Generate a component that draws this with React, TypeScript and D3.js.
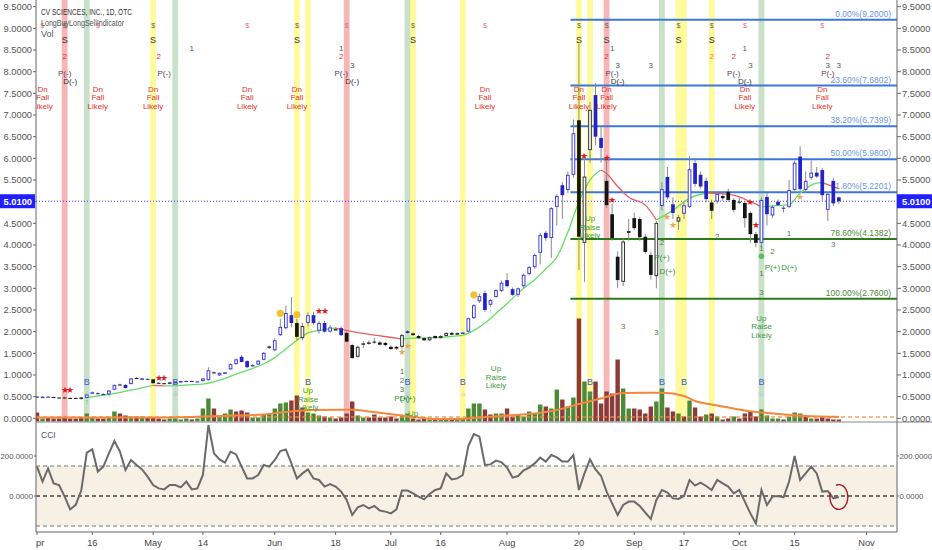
import * as d3 from "d3";

// ---- daily bars, Apr 2 – Oct 25 (trading days only) ----
const opens = [
  0.50, 0.49, 0.50, 0.49, 0.48, 0.48, 0.47, 0.47, 0.48, 0.47,
  0.57, 0.58, 0.56, 0.55, 0.66, 0.78, 0.77, 0.79, 0.93, 0.91,
  0.91, 0.90, 0.82, 0.81, 0.80, 0.83, 0.83, 0.86, 0.86, 0.85,
  0.86, 0.88, 1.06, 0.99, 1.05, 1.13, 1.25, 1.42, 1.32, 1.22,
  1.24, 1.35, 1.65, 1.57, 1.92, 2.08, 2.38, 2.20, 1.85, 2.20,
  2.38, 2.02, 2.20, 2.00, 2.05, 2.08, 1.97, 1.69, 1.42, 1.70,
  1.74, 1.77, 1.75, 1.74, 1.65, 1.65, 1.65, 2.01, 1.96, 1.90,
  1.85, 1.80, 1.90, 1.85, 1.90, 1.97, 1.93, 1.97, 2.00, 2.31,
  2.70, 2.89, 2.62, 2.80, 2.94, 3.19, 2.98, 2.85, 3.05, 3.33,
  3.49, 3.82, 4.28, 4.16, 4.88, 5.38, 5.27, 5.62, 6.88, 4.05,
  6.19, 7.46, 6.47, 5.48, 4.71, 3.73, 3.15, 4.32, 4.62, 4.60,
  4.19, 3.77, 3.28, 4.90, 5.57, 4.94, 4.54, 4.72, 4.88, 5.89,
  5.62, 5.48, 4.98, 5.00, 5.13, 5.23, 5.04, 5.00, 4.97, 4.74,
  4.25, 4.05, 5.11, 4.68, 5.00, 4.86, 4.88, 5.27, 6.04, 5.27,
  5.55, 5.67, 5.73, 4.81, 5.48, 5.10,
];
const highs = [
  0.51, 0.51, 0.51, 0.50, 0.49, 0.49, 0.48, 0.48, 0.49, 0.56,
  0.62, 0.60, 0.58, 0.65, 0.78, 0.80, 0.79, 0.93, 0.95, 0.93,
  0.92, 0.91, 0.83, 0.82, 0.84, 0.85, 0.87, 0.87, 0.87, 0.86,
  0.93, 1.18, 1.08, 1.06, 1.07, 1.27, 1.38, 1.46, 1.34, 1.25,
  1.34, 1.53, 1.68, 1.85, 2.30, 2.60, 2.80, 2.30, 2.20, 2.45,
  2.45, 2.25, 2.25, 2.15, 2.10, 2.12, 2.00, 1.72, 1.68, 1.78,
  1.80, 1.85, 1.78, 1.76, 1.68, 1.67, 1.95, 2.03, 1.98, 1.92,
  1.87, 1.89, 1.91, 1.92, 1.99, 1.99, 1.98, 2.00, 2.33, 2.63,
  2.88, 2.95, 2.76, 2.98, 3.18, 3.35, 3.02, 3.02, 3.34, 3.52,
  3.80, 4.28, 4.32, 4.88, 5.18, 5.45, 5.70, 6.90, 8.65, 6.10,
  7.30, 7.74, 6.75, 6.00, 4.95, 3.85, 4.15, 4.60, 4.75, 4.65,
  4.25, 3.85, 4.55, 5.45, 5.80, 5.10, 4.70, 5.00, 6.05, 6.00,
  5.70, 5.55, 5.05, 5.22, 5.18, 5.30, 5.08, 5.10, 5.00, 4.78,
  4.30, 5.10, 5.20, 4.92, 5.05, 4.90, 5.50, 5.95, 6.28, 5.70,
  5.95, 5.80, 5.78, 5.22, 5.55, 5.12,
];
const lows = [
  0.48, 0.48, 0.48, 0.47, 0.47, 0.46, 0.46, 0.45, 0.43, 0.46,
  0.56, 0.55, 0.54, 0.54, 0.65, 0.76, 0.69, 0.78, 0.92, 0.90,
  0.89, 0.80, 0.80, 0.79, 0.79, 0.82, 0.82, 0.85, 0.84, 0.84,
  0.85, 0.87, 1.03, 0.98, 1.04, 1.12, 1.24, 1.29, 1.16, 1.20,
  1.23, 1.34, 1.60, 1.55, 1.90, 2.05, 2.10, 1.80, 1.80, 2.15,
  2.15, 1.95, 1.98, 1.98, 2.03, 1.90, 1.75, 1.38, 1.40, 1.62,
  1.70, 1.72, 1.68, 1.66, 1.58, 1.58, 1.60, 1.96, 1.90, 1.84,
  1.79, 1.78, 1.84, 1.84, 1.89, 1.92, 1.92, 1.96, 1.98, 2.29,
  2.66, 2.46, 2.58, 2.78, 2.92, 3.02, 2.82, 2.80, 3.00, 3.30,
  3.45, 3.55, 4.10, 3.70, 4.45, 4.60, 5.20, 5.55, 3.42, 3.15,
  5.90, 6.30, 5.90, 4.85, 4.10, 3.00, 3.05, 4.10, 4.35, 4.10,
  3.80, 3.20, 3.00, 4.80, 5.05, 4.60, 4.35, 4.60, 4.85, 5.35,
  5.30, 4.98, 4.60, 4.95, 5.02, 5.00, 4.75, 4.95, 4.40, 4.05,
  3.95, 3.95, 4.45, 4.62, 4.90, 4.75, 4.85, 5.25, 5.25, 5.20,
  5.50, 5.55, 5.00, 4.55, 4.90, 4.95,
];
const closes = [
  0.49, 0.50, 0.49, 0.48, 0.475, 0.47, 0.465, 0.46, 0.45, 0.55,
  0.60, 0.56, 0.55, 0.64, 0.77, 0.77, 0.70, 0.92, 0.93, 0.92,
  0.90, 0.81, 0.81, 0.80, 0.83, 0.84, 0.86, 0.86, 0.85, 0.85,
  0.92, 1.11, 1.05, 1.05, 1.06, 1.25, 1.36, 1.30, 1.18, 1.23,
  1.33, 1.51, 1.66, 1.80, 2.11, 2.43, 2.20, 1.88, 2.13, 2.38,
  2.20, 2.20, 2.00, 2.10, 2.06, 1.92, 1.77, 1.39, 1.65, 1.73,
  1.75, 1.76, 1.70, 1.69, 1.60, 1.61, 1.92, 1.97, 1.92, 1.85,
  1.80, 1.87, 1.85, 1.90, 1.97, 1.93, 1.97, 1.98, 2.31, 2.61,
  2.82, 2.50, 2.73, 2.96, 3.13, 3.05, 2.85, 3.00, 3.31, 3.49,
  3.77, 4.23, 4.16, 4.85, 5.13, 5.15, 5.62, 6.58, 4.19, 5.58,
  7.12, 6.50, 6.24, 4.92, 4.16, 3.19, 4.08, 4.28, 4.39, 4.18,
  3.84, 3.31, 4.51, 5.29, 5.10, 4.74, 4.64, 4.92, 5.75, 5.41,
  5.35, 5.06, 4.79, 5.18, 5.08, 5.04, 4.81, 4.98, 4.62, 4.25,
  4.05, 5.04, 4.71, 4.88, 4.92, 4.85, 5.27, 5.90, 5.29, 5.48,
  5.67, 5.58, 5.15, 5.18, 4.96, 5.01,
];
// b = blue bar, k = black bar (indicator colouring)
const barTone =
  "kbbkkkkkkb" + "bbbbbkbbkb" + "bkkkkbbbbb" + "bbkbbbbbbb" + "bbkbbbbkkb" +
  "bbbbkbkkkk" + "kkkkkkkbkk" + "kkkkkkkbbb" + "bbbbbbbbbb" + "bbbbbbbbkk" +
  "kbbkkkkkkk" + "kkkbbbkbbb" + "bbkbkkkkkk" + "kbbbbbbbbb" + "bbbbbb";

// volume (x10k shares) and its colour, g = up, r = down
const volume = [
  9, 3, 4, 3, 3, 4, 3, 3, 4, 8,
  4, 3, 3, 4, 10, 8, 6, 5, 5, 5,
  4, 4, 3, 2, 3, 3, 2, 3, 2, 3,
  13, 23, 13, 6, 8, 12, 10, 11, 9, 4,
  4, 7, 8, 13, 18, 19, 21, 26, 14, 9,
  8, 6, 5, 4, 3, 4, 8, 20, 6, 4,
  4, 7, 4, 4, 5, 3, 6, 8, 3, 2,
  3, 2, 2, 3, 2, 2, 3, 3, 13, 18,
  18, 12, 7, 8, 8, 13, 5, 7, 5, 10,
  8, 17, 15, 13, 32, 22, 15, 24, 103, 40,
  30, 40, 18, 30, 28, 62, 33, 13, 13, 12,
  8, 15, 20, 33, 14, 10, 8, 5, 21, 14,
  5, 7, 8, 5, 2, 3, 5, 3, 8, 10,
  5, 12, 6, 3, 3, 2, 5, 9, 8, 5,
  3, 3, 5, 3, 2, 2,
];
const volDir =
  "rgrrrrrrrg" + "grrggrrgrg" + "rrrrggggrg" + "ggrgggrrrg" + "ggggggrrrg" +
  "ggrgrrrrgg" + "rrrrrrggrr" + "rgrggrgggg" + "grrggrrggg" + "ggrggrggrg" +
  "grrrrrggrr" + "rrggrrgrgr" + "rgrgrrgrrr" + "rggggrgggr" + "grrrrr";

// volume moving average (read at sample bars)
const vmaIdx = [0, 10, 20, 30, 36, 41, 44, 47, 50, 54, 57, 60, 63, 66, 69, 72, 76, 80, 85, 90, 94, 98, 102, 106, 110, 113, 117, 119, 122, 125, 128, 131, 134, 137, 140, 143, 145];
const vmaVal = [4, 4, 4, 5, 6, 7, 9, 10.5, 11.5, 11.7, 11.7, 10, 8, 6, 4, 2.5, 2.5, 4, 6, 8, 11.5, 17.5, 23, 28.5, 28.7, 28.7, 25.5, 20.5, 17, 14, 11, 9, 7.5, 6.3, 5.2, 4.7, 4.6];

// trend line of the indicator (read at sample bars)
const maIdx = [9, 13, 17, 21, 23, 25, 27, 30, 33, 36, 39, 41, 43, 44, 47, 49, 51, 53, 54, 57, 61, 65, 66, 68, 72, 74, 77, 79, 81, 83, 85, 88, 90, 92, 94, 96, 98, 100, 102, 103, 105, 107, 110, 112, 115, 118, 121, 123, 126, 129, 131, 133, 136, 138, 141, 142, 144, 145];
const maVal = [0.48, 0.55, 0.65, 0.76, 0.75, 0.75, 0.77, 0.79, 0.88, 1.02, 1.15, 1.26, 1.40, 1.50, 1.80, 1.97, 2.03, 2.07, 2.08, 2.00, 1.92, 1.85, 1.83, 1.85, 1.86, 1.88, 1.92, 2.03, 2.20, 2.42, 2.65, 3.00, 3.20, 3.45, 3.72, 4.30, 5.00, 5.50, 5.73, 5.65, 5.35, 5.10, 4.92, 4.58, 4.80, 5.08, 5.20, 5.19, 5.15, 5.00, 4.88, 4.90, 4.93, 5.20, 5.43, 5.44, 5.35, 5.30];

const cci = [
  147, 72, 138, 63, 55, -3, -67, -44, 27, 217,
  233, 122, 147, 213, 275, 222, 130, 180, 155, 133,
  97, 55, 38, 33, 55, 55, 43, 72, 33, 38,
  105, 355, 213, 183, 167, 222, 208, 147, 88, 88,
  105, 155, 147, 180, 225, 233, 163, 88, 113, 133,
  88, 80, 47, 60, 47, 22, -20, -95, -57, -45,
  -62, -50, -73, -78, -87, -67, 27, 27, 13, -3,
  -17, 10, 30, 38, 113, 83, 88, 105, 250, 310,
  297, 155, 158, 177, 168, 142, 92, 100, 128, 142,
  163, 192, 172, 205, 193, 172, 172, 205, 30, 113,
  183, 133, 100, 22, -37, -95, -45, -28, -28, -50,
  -83, -115, -20, 30, 17, -12, -15, 0, 80, 52,
  67, 50, 30, 80, 63, 47, 13, 30, -28, -87,
  -137, 30, -45, -3, 0, -7, 72, 200, 80, 113,
  147, 113, 22, 25, -12, -5,
];

// Fibonacci retracement
const fibPct = ["0.00%", "23.60%", "38.20%", "50.00%", "61.80%", "78.60%", "100.00%"];
const fibVal = [9.2, 7.6802, 6.7399, 5.98, 5.2201, 4.1382, 2.76];
const fibStart = 97;

// highlighted bars
const redBands = [5, 56, 103];
const greenBands = [9, 25, 67, 113, 131];
const yellowBands = [21, 47, 49, 68, 77, 98, 100, 116, 117, 122];

// signals in the top rows
const sellIdx = [5, 21, 47, 68, 98, 103, 116, 122];
const pinkIdx = [1, 11, 38, 56, 81, 128, 142];
const dnFallIdx = [1, 11, 21, 38, 47, 81, 98, 103, 128, 142];
const oneTopIdx = [28, 55, 104, 128];
const twoTopIdx = [5, 22, 55, 103, 122, 126, 143];
const threeTopIdx = [57, 105, 111, 129, 143, 145];
const pMinusIdx = [5, 23, 55, 104, 126, 143];
const dMinusIdx = [6, 57, 105, 128];

// signals in the bottom rows
const buyIdx = [9, 25, 49, 67, 77, 100, 113, 117, 131];
const buyStarIdx = [9, 25, 67, 77, 100, 131];
const upIdx = [49, 68, 83, 100, 131];
const upLevel = [0.65, 0.12, 1.16, 4.62, 2.32];
const lowIdx = [66, 66, 66, 66, 67, 30, 113, 113, 114, 123, 131, 133, 133, 136, 131, 131, 136, 144, 106, 112];
const lowLevel = [1.09, 0.88, 0.67, 0.47, 0.47, 0.17, 4.07, 3.72, 3.40, 4.21, 3.93, 3.85, 3.50, 3.50, 3.35, 2.92, 4.27, 4.02, 2.13, 2.0];
const lowText = ["1", "2", "3", "P(+)", "D(+)", "1", "2", "P(+)", "D(+)", "2", "1", "2", "P(+)", "D(+)", "1", "3", "1", "3", "3", "3"];
const redStarIdx = [5, 6, 22, 23, 51, 52, 99, 103, 104, 129, 130];
const redStarLevel = [0.675, 0.675, 0.95, 0.95, 2.48, 2.48, 6.07, 6.03, 5.05, 5.0, 4.48];
const orangeStarIdx = [66, 67, 114, 115, 138];
const orangeStarLevel = [1.54, 1.69, 4.65, 4.48, 5.13];
const dotIdx = [44, 47, 79];
const dotLevel = [2.42, 2.39, 2.85];
const arrowIdx = [9, 13, 49, 82, 100];
const arrowLevel = [0.40, 0.52, 2.12, 2.48, 6.05];
const greenDotIdx = [131];
const greenDotLevel = [3.74];

const priceTicks = d3.range(0, 9.51, 0.5);
const cciTicks = [200, 0];
const timeIdx = [0, 10, 21, 30, 43, 54, 64, 73, 85, 98, 108, 117, 127, 137, 150];
const timeText = ["Apr", "16", "May", "14", "Jun", "18", "Jul", "16", "Aug", "20", "Sep", "17", "Oct", "15", "Nov"];

const W = 932;
const H = 550;
const L = 36;
const R = 897;
const PANE_BOT = 422;
const CCI_BOT = 532;
const FONT = "'Liberation Sans', Arial, sans-serif";

const x = d3.scaleLinear().domain([0, 150]).range([37, 866.5]);
const y = d3.scaleLinear().domain([0, 9.5]).range([418.3, 6.7]);
const vy = d3.scaleLinear().domain([0, 100]).range([421.5, 321.5]);
const cy = d3.scaleLinear().domain([-150, 200]).range([526, 456]);
const rowY = d3.scaleLinear().domain([0, 1]).range([40, 48.2]);
const bottomRowY = d3.scaleLinear().domain([0, 1]).range([382, 393]);

const BLUE = "#2323c8";
const BLUE_LINE = "#4040dc";
const BLACK = "#151515";

function trendRuns(idx: number[], val: number[]) {
  const out: { up: boolean; pts: number[] }[] = [];
  let up = val[1] >= val[0];
  let cur = [0];
  for (let k = 1; k < val.length; k++) {
    const u = val[k] >= val[k - 1];
    if (u === up) cur.push(k);
    else {
      out.push({ up, pts: cur });
      cur = [k - 1, k];
      up = u;
    }
  }
  out.push({ up, pts: cur });
  return out;
}

export default function App() {
  const n = closes.length;
  const last = n - 1;
  const lastPrice = closes[last];

  const maLine = d3
    .line<number>()
    .x((k) => x(maIdx[k]))
    .y((k) => y(maVal[k]))
    .curve(d3.curveMonotoneX);
  const runs = trendRuns(maIdx, maVal);

  const vmaLine = d3
    .line<number>()
    .x((_, k) => x(vmaIdx[k]))
    .y((d) => vy(d))
    .curve(d3.curveMonotoneX);

  const cciLine = d3
    .line<number>()
    .x((_, i) => x(i))
    .y((d) => cy(d));

  // hand-drawn circle around the last CCI reading
  const cx0 = x(last);
  const cy0 = cy(cci[last]);
  const circ = d3
    .line<number>()
    .x((t) => cx0 + 9 * Math.cos(t))
    .y((t) => cy0 + 12.5 * Math.sin(t))
    .curve(d3.curveBasis)(d3.range(-1.9, 3.7, 0.2));

  const bw = 3.7;

  const band = (i: number, fill: string, key: string) => (
    <rect key={key} x={x(i) - 2.9} y={0} width={5.8} height={PANE_BOT} fill={fill} />
  );

  const small = { fontFamily: FONT, fontSize: 8, textAnchor: "middle" as const };

  return (
    <svg width={W} height={H} style={{ position: "absolute", left: 0, top: 0, background: "#fff" }}>
      <defs>
        <clipPath id="mainClip">
          <rect x={L} y={0} width={R - L} height={PANE_BOT} />
        </clipPath>
        <clipPath id="cciClip">
          <rect x={L} y={PANE_BOT} width={R - L} height={CCI_BOT - PANE_BOT} />
        </clipPath>
        <clipPath id="timeClip">
          <rect x={L} y={CCI_BOT} width={R - L} height={H - CCI_BOT} />
        </clipPath>
      </defs>
      <rect width={W} height={H} fill="#fff" />

      <g clipPath="url(#mainClip)">
        {redBands.map((i) => band(i, "rgba(240,110,110,0.5)", `r${i}`))}
        {greenBands.map((i) => band(i, "rgba(110,175,110,0.38)", `g${i}`))}
        {yellowBands.map((i) => band(i, "rgba(255,248,90,0.6)", `y${i}`))}

        {/* volume */}
        {volume.map((v, i) => (
          <rect
            key={`v${i}`}
            x={x(i) - 2.2}
            y={vy(v)}
            width={4.4}
            height={vy(0) - vy(v)}
            fill={volDir[i] === "g" ? "#4e8a36" : "#8c3b3b"}
          />
        ))}
        <line
          x1={L}
          x2={R}
          y1={vy(vmaVal[vmaVal.length - 1])}
          y2={vy(vmaVal[vmaVal.length - 1])}
          stroke="#f08a40"
          strokeWidth={1.5}
          strokeDasharray="4 3"
          opacity={0.8}
        />
        <path d={vmaLine(vmaVal) ?? ""} fill="none" stroke="#f3883c" strokeWidth={2} />

        {/* fibonacci */}
        {fibVal.map((v, k) => {
          const c = k < 5 ? "#3d78d8" : "#2f7a1e";
          return (
            <line key={`f${k}`} x1={x(fibStart) - 3} x2={R} y1={y(v)} y2={y(v)} stroke={c} strokeWidth={2} />
          );
        })}
        {fibVal.map((v, k) => (
          <text
            key={`fl${k}`}
            x={891}
            y={y(v) - 3}
            fontFamily={FONT}
            fontSize={8.5}
            textAnchor="end"
            fill={k < 5 ? "#6b98e0" : "#4f8a3a"}
          >
            {`${fibPct[k]}(${v.toFixed(4)})`}
          </text>
        ))}

        {/* last price line */}
        <line x1={L} x2={R} y1={y(lastPrice)} y2={y(lastPrice)} stroke="#3a3aff" strokeWidth={1} strokeDasharray="1 2" />

        {/* trend line */}
        {runs.map((r, k) => (
          <path
            key={`ma${k}`}
            d={maLine(r.pts) ?? ""}
            fill="none"
            stroke={r.up ? "#66dd66" : "#e06262"}
            strokeWidth={1.3}
          />
        ))}

        {/* candles */}
        {closes.map((c, i) => {
          const o = opens[i];
          const blue = barTone[i] === "b";
          const col = blue ? BLUE : BLACK;
          const up = c > o;
          const top = y(Math.max(o, c));
          const h = Math.max(1, y(Math.min(o, c)) - top);
          return (
            <g key={`c${i}`}>
              <line x1={x(i)} x2={x(i)} y1={y(highs[i])} y2={y(lows[i])} stroke="#8a8a8a" strokeWidth={1} />
              {up ? (
                <rect
                  x={x(i) - bw / 2 + 0.5}
                  y={top + 0.5}
                  width={bw - 1}
                  height={Math.max(0.5, h - 1)}
                  fill="#fff"
                  stroke={blue ? BLUE_LINE : "#333"}
                  strokeWidth={1}
                />
              ) : (
                <rect x={x(i) - bw / 2} y={top} width={bw} height={h} fill={col} />
              )}
            </g>
          );
        })}

        {/* top rows */}
        {sellIdx.map((i) => (
          <g key={`s${i}`}>
            <text x={x(i)} y={rowY(-1.8) + 3} {...small} fontSize={7} fill="#666">$</text>
            <text x={x(i)} y={rowY(0) + 3} {...small} fontSize={9} fill="#333">S</text>
          </g>
        ))}
        {pinkIdx.map((i) => (
          <text key={`p${i}`} x={x(i)} y={rowY(-1.8) + 3} {...small} fontSize={7} fill="#e86a8c">$</text>
        ))}
        {oneTopIdx.map((i) => (
          <text key={`o${i}`} x={x(i)} y={rowY(1) + 3} {...small} fill="#555">1</text>
        ))}
        {twoTopIdx.map((i) => (
          <text key={`t${i}`} x={x(i)} y={rowY(2) + 3} {...small} fill={i === 122 ? "#e8841a" : "#e0303a"}>2</text>
        ))}
        {threeTopIdx.map((i) => (
          <text key={`th${i}`} x={x(i)} y={rowY(3) + 3} {...small} fill="#555">3</text>
        ))}
        {pMinusIdx.map((i) => (
          <text key={`pm${i}`} x={x(i)} y={rowY(4) + 3} {...small} fill="#6a3a5a">P(-)</text>
        ))}
        {dMinusIdx.map((i) => (
          <text key={`dm${i}`} x={x(i)} y={rowY(5) + 3} {...small} fill="#333">D(-)</text>
        ))}
        {dnFallIdx.map((i) => (
          <g key={`dn${i}`} fill="#e8302a">
            <text x={x(i)} y={rowY(6) + 3} {...small}>Dn</text>
            <text x={x(i)} y={rowY(7) + 3} {...small}>Fall</text>
            <text x={x(i)} y={rowY(8) + 3} {...small}>Likely</text>
          </g>
        ))}

        {/* bottom rows and bar signals */}
        {buyIdx.map((i) => (
          <text key={`b${i}`} x={x(i)} y={bottomRowY(0) + 3} {...small} fontSize={9} fill="#3b5bd6">B</text>
        ))}
        {buyStarIdx.map((i) => (
          <text key={`bs${i}`} x={x(i)} y={bottomRowY(1) + 3} {...small} fontSize={7} fill="#8f9ccf">☆</text>
        ))}
        {upIdx.map((i, k) => (
          <g key={`u${i}`} fill="#3f9a3f">
            <text x={x(i)} y={y(upLevel[k]) + 3} {...small}>Up</text>
            <text x={x(i)} y={y(upLevel[k]) + 11.5} {...small}>Raise</text>
            <text x={x(i)} y={y(upLevel[k]) + 20} {...small}>Likely</text>
          </g>
        ))}
        {lowIdx.map((i, k) => (
          <text
            key={`lo${k}`}
            x={x(i)}
            y={y(lowLevel[k]) + 3}
            {...small}
            fill={lowText[k].length > 1 ? "#37963a" : "#56794a"}
          >
            {lowText[k]}
          </text>
        ))}
        {redStarIdx.map((i, k) => (
          <text key={`rs${k}`} x={x(i)} y={y(redStarLevel[k]) + 3.5} {...small} fontSize={9} fill="#e01818">★</text>
        ))}
        {orangeStarIdx.map((i, k) => (
          <text key={`os${k}`} x={x(i)} y={y(orangeStarLevel[k]) + 3.5} {...small} fontSize={9} fill="#f2a45a">★</text>
        ))}
        {dotIdx.map((i, k) => (
          <circle key={`d${k}`} cx={x(i)} cy={y(dotLevel[k])} r={3.6} fill="#f2c230" />
        ))}
        {greenDotIdx.map((i, k) => (
          <circle key={`gd${k}`} cx={x(i)} cy={y(greenDotLevel[k])} r={2.8} fill="#5bbf5b" />
        ))}
        {arrowIdx.map((i, k) => (
          <text key={`a${k}`} x={x(i)} y={y(arrowLevel[k]) + 3} {...small} fontSize={7} fill="#3fbf3f">↑</text>
        ))}
      </g>

      {/* CCI pane */}
      <rect x={L} y={cy(150)} width={R - L} height={cy(-150) - cy(150)} fill="#f7f1e5" />
      <line x1={L} x2={R} y1={cy(150)} y2={cy(150)} stroke="#777" strokeDasharray="4 3" />
      <line x1={L} x2={R} y1={cy(-150)} y2={cy(-150)} stroke="#777" strokeDasharray="4 3" />
      <line x1={L} x2={R} y1={cy(0)} y2={cy(0)} stroke="#444" strokeWidth={1.6} strokeDasharray="4 3" />
      <g clipPath="url(#cciClip)">
        <path d={cciLine(cci) ?? ""} fill="none" stroke="#6a6a6a" strokeWidth={2} />
      </g>
      <path d={circ ?? ""} fill="none" stroke="#b0142a" strokeWidth={1.4} />
      <text x={41} y={438} fontFamily={FONT} fontSize={8.5} fill="#555">CCI</text>

      {/* frame */}
      <line x1={L} x2={L} y1={0} y2={CCI_BOT} stroke="#666" />
      <line x1={R} x2={R} y1={0} y2={CCI_BOT} stroke="#666" />
      <line x1={L} x2={W} y1={PANE_BOT} y2={PANE_BOT} stroke="#888" />
      <line x1={L} x2={R} y1={CCI_BOT} y2={CCI_BOT} stroke="#666" />

      {/* price axes */}
      {priceTicks.map((v) => (
        <g key={`pt${v}`} fontFamily={FONT} fontSize={9.3} fill="#555">
          <line x1={R} x2={R + 4} y1={y(v)} y2={y(v)} stroke="#666" />
          <line x1={L - 3} x2={L} y1={y(v)} y2={y(v)} stroke="#666" />
          <text x={R + 5} y={y(v) + 3.3}>{v.toFixed(4)}</text>
          <text x={L - 4} y={y(v) + 3.3} textAnchor="end">{v.toFixed(4)}</text>
        </g>
      ))}
      {cciTicks.map((v) => (
        <g key={`ct${v}`} fontFamily={FONT} fontSize={7.8} fill="#555">
          <line x1={R} x2={R + 2} y1={cy(v)} y2={cy(v)} stroke="#666" />
          <line x1={L - 2} x2={L} y1={cy(v)} y2={cy(v)} stroke="#666" />
          <text x={R + 2.5} y={cy(v) + 3}>{v.toFixed(4)}</text>
          <text x={L - 3} y={cy(v) + 3} textAnchor="end">{v.toFixed(4)}</text>
        </g>
      ))}

      {/* last price badges */}
      <rect x={R} y={y(lastPrice) - 7} width={W - R} height={14} fill="#1f1fff" />
      <text x={R + 5} y={y(lastPrice) + 3.3} fontFamily={FONT} fontSize={9.3} fontWeight="bold" fill="#fff">
        {lastPrice.toFixed(4)}
      </text>
      <rect x={0} y={y(lastPrice) - 7} width={L - 1} height={14} fill="#1f1fff" />
      <text x={L - 4} y={y(lastPrice) + 3.3} fontFamily={FONT} fontSize={9.3} fontWeight="bold" fill="#fff" textAnchor="end">
        {lastPrice.toFixed(4)}
      </text>

      {/* time axis */}
      <g clipPath="url(#timeClip)">
        {timeIdx.map((i, k) => (
          <g key={`tx${k}`}>
            <line x1={x(i)} x2={x(i)} y1={CCI_BOT} y2={CCI_BOT + 3} stroke="#666" />
            <text x={x(i)} y={546} fontFamily={FONT} fontSize={9.3} fill="#444" textAnchor="middle">
              {timeText[k]}
            </text>
          </g>
        ))}
      </g>

      {/* legend */}
      <text x={41} y={15} fontFamily={FONT} fontSize={9} fill="#333" textLength={91} lengthAdjust="spacingAndGlyphs">
        CV SCIENCES, INC., 1D, OTC
      </text>
      <text x={41} y={26} fontFamily={FONT} fontSize={9} fill="#555" textLength={83} lengthAdjust="spacingAndGlyphs">
        LongBuyLongSellIndicator
      </text>
      <text x={41} y={37} fontFamily={FONT} fontSize={9} fill="#555">Vol</text>
    </svg>
  );
}
